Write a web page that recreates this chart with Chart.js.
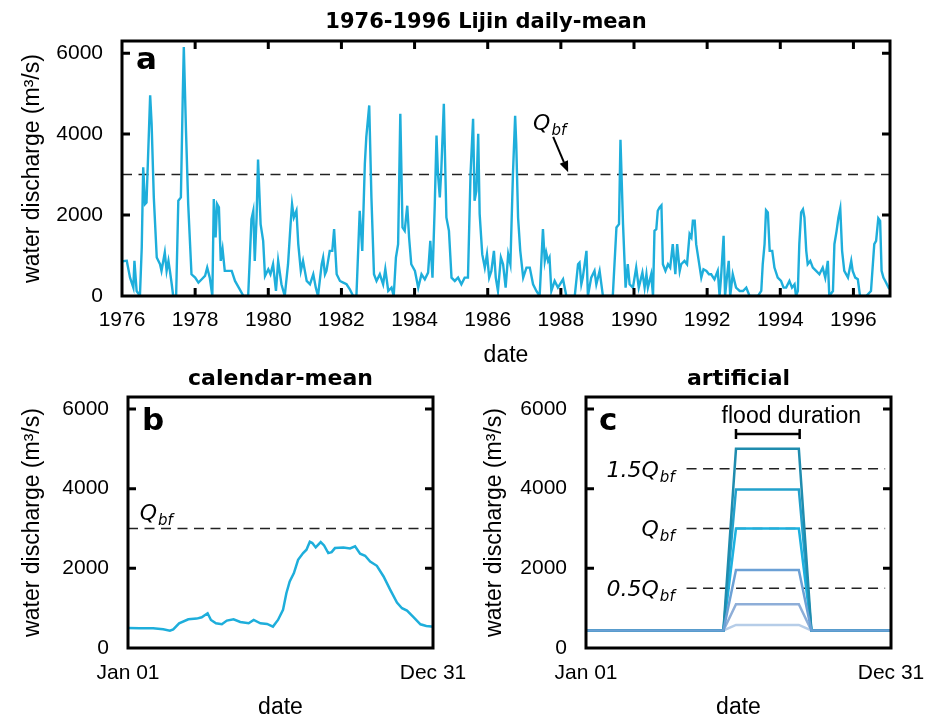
<!DOCTYPE html>
<html><head><meta charset="utf-8">
<script src="https://cdn.jsdelivr.net/npm/chart.js@4.4.1/dist/chart.umd.min.js"></script>
<style>
html,body{margin:0;padding:0;background:#fff;}
#wrap{position:relative;width:927px;height:721px;overflow:hidden;}
canvas{position:absolute;left:0;top:0;}
</style></head><body><div id="wrap">
<canvas id="ca" width="927" height="721"></canvas>
<canvas id="cb" width="927" height="721"></canvas>
<canvas id="cc" width="927" height="721"></canvas>
</div>
<script>
// ---------- data ----------
const yearsA = [1976.00,1976.08,1976.13,1976.22,1976.31,1976.34,1976.40,1976.49,1976.54,1976.58,1976.63,1976.67,1976.77,1976.81,1976.87,1976.95,
1977.04,1977.08,1977.17,1977.22,1977.27,1977.31,1977.36,1977.40,1977.48,1977.54,1977.61,1977.66,1977.69,1977.75,1977.81,1977.90,
1978.00,1978.09,1978.18,1978.27,1978.33,1978.40,1978.47,1978.51,1978.56,1978.60,1978.65,1978.70,1978.75,1978.81,1978.91,
1979.00,1979.09,1979.22,1979.32,1979.45,1979.54,1979.59,1979.63,1979.68,1979.72,1979.79,1979.86,1979.91,
1980.00,1980.06,1980.13,1980.21,1980.27,1980.36,1980.45,1980.54,1980.61,1980.65,1980.70,1980.77,1980.82,1980.89,1980.95,
1981.05,1981.14,1981.23,1981.30,1981.36,1981.46,1981.50,1981.55,1981.59,1981.68,1981.75,1981.80,1981.87,1981.96,
1982.05,1982.14,1982.23,1982.32,1982.41,1982.50,1982.57,1982.64,1982.68,1982.76,1982.82,1982.89,1982.96,
1983.05,1983.14,1983.20,1983.28,1983.37,1983.43,1983.49,1983.55,1983.61,1983.67,1983.73,1983.80,1983.85,1983.91,
1984.01,1984.10,1984.19,1984.28,1984.37,1984.43,1984.49,1984.55,1984.60,1984.64,1984.69,1984.73,1984.80,1984.87,1984.94,
1985.01,1985.10,1985.19,1985.28,1985.37,1985.46,1985.53,1985.60,1985.64,1985.69,1985.74,1985.78,1985.85,1985.92,1985.98,
1986.04,1986.10,1986.17,1986.22,1986.28,1986.36,1986.42,1986.49,1986.56,1986.62,1986.69,1986.75,1986.78,1986.83,1986.89,1986.97,
1987.06,1987.15,1987.24,1987.33,1987.42,1987.51,1987.56,1987.60,1987.65,1987.69,1987.74,1987.83,1987.92,
1988.06,1988.15,1988.38,1988.47,1988.51,1988.56,1988.60,1988.70,1988.74,1988.83,1988.92,1988.97,
1989.06,1989.15,1989.29,1989.42,1989.52,1989.59,1989.63,1989.70,1989.77,1989.83,1989.88,1989.97,
1990.06,1990.13,1990.23,1990.29,1990.34,1990.38,1990.47,1990.52,1990.56,1990.61,1990.65,1990.70,1990.75,1990.79,1990.86,1990.93,1990.99,
1991.06,1991.13,1991.18,1991.25,1991.29,1991.38,1991.45,1991.52,1991.57,1991.61,1991.66,1991.70,1991.77,1991.84,1991.90,1991.98,
1992.05,1992.11,1992.20,1992.29,1992.34,1992.38,1992.45,1992.49,1992.54,1992.59,1992.63,1992.70,1992.79,1992.89,1992.98,
1993.07,1993.16,1993.39,1993.48,1993.52,1993.57,1993.61,1993.66,1993.71,1993.78,1993.84,1993.93,
1994.02,1994.09,1994.16,1994.25,1994.32,1994.39,1994.43,1994.48,1994.52,1994.57,1994.62,1994.66,1994.71,1994.75,1994.82,1994.89,1994.98,
1995.07,1995.16,1995.23,1995.30,1995.34,1995.44,1995.48,1995.54,1995.59,1995.64,1995.69,1995.75,1995.85,1995.94,1995.98,
1996.05,1996.12,1996.18,1996.35,1996.48,1996.57,1996.62,1996.68,1996.73,1996.77,1996.82,1996.87,1996.96,1997.00];
const dischargeA = [850,867,870,454,206,867,124,0,1197,3180,2270,2310,4956,4254,2430,950,
785,620,1074,620,867,620,290,0,0,2354,2436,4873,6150,4080,2270,537,
454,330,413,495,702,454,0,2395,1445,2270,2188,867,1156,620,620,
620,372,165,0,0,1900,2106,867,1940,3370,1776,1363,495,
661,537,785,124,867,290,0,785,1776,2270,1940,2106,1280,620,867,
372,290,537,207,0,785,950,537,620,1115,1115,1652,537,372,
330,290,165,0,0,2106,1115,3262,3923,4708,2436,537,372,
537,290,661,124,207,0,950,1280,4502,1693,1610,2230,1445,785,
620,207,537,413,578,1363,454,2188,3965,3015,2436,3097,4750,1940,1610,
454,372,454,290,454,454,3015,4378,2354,2600,4006,2023,1033,702,1033,
454,620,1115,454,124,950,785,207,1033,785,3015,4450,3758,1940,1115,454,
702,702,290,124,0,1652,867,1074,867,950,124,372,207,
413,0,0,785,826,290,454,1115,0,454,620,290,
620,0,0,0,1693,1776,3860,1776,207,785,290,207,
702,207,578,207,537,207,537,0,1610,1652,2106,2188,2240,785,620,785,702,
1280,537,1280,620,785,867,785,1528,1445,1858,1858,1280,867,454,661,620,
537,537,413,620,0,454,1486,0,454,867,0,537,207,124,124,
207,0,0,124,785,1280,2120,2065,1115,1115,702,454,
372,207,207,372,207,290,0,124,1280,2065,2140,1940,1115,785,867,702,620,
537,702,454,867,0,124,1280,1610,1940,2160,1115,620,454,867,620,
454,413,0,0,124,1280,1363,1920,1858,620,454,372,207,250];
const yearTicks = [1976,1978,1980,1982,1984,1986,1988,1990,1992,1994,1996];
const dischargeTicks = [0,2000,4000,6000];
const bankfull = 3000;

const calDays = [1,15,31,43,51,55,62,73,83,89,96,100,106,113,119,127,135,145,151,159,167,174,180,186,190,194,199,204,210,214,218,221,225,231,235,240,244,248,258,266,272,278,284,290,298,306,314,322,328,334,342,350,357,363,365];
const calDischarge = [505,494,494,469,436,469,620,721,738,771,872,704,620,595,688,721,654,620,704,620,604,537,704,956,1376,1669,1879,2214,2382,2466,2667,2634,2525,2659,2575,2382,2407,2508,2525,2500,2550,2365,2315,2172,2063,1795,1460,1141,998,939,771,595,553,537,530];
const calTickDays = [1,365];
const calTickLabels = ['Jan 01','Dec 31'];

const artDays = [1,165,180,255,270,365];
const art5000 = [440,440,5000,5000,440,440];
const art4000 = [440,440,3980,3980,440,440];
const art3000 = [440,440,3000,3000,440,440];
const art2000 = [440,440,1960,1960,440,440];
const art1100 = [440,440,1100,1100,440,440];
const art600  = [440,440,580,580,440,440];
const artDashDays = [121,358];
const artDashLevels = [4500,3000,1500];
const artDashPrefixes = ['1.5','','0.5'];
const floodDurationDays = [180,256];

// ---------- helpers ----------
Chart.defaults.font.family = '"Liberation Sans", Arial, sans-serif';
Chart.defaults.color = '#000';
const LINE = '#1eaedb';
const pts = (xs, ys) => xs.map((x, i) => ({x, y: ys[i]}));

function drawQ(ctx, prefix, x, y, align) {
  const size = 22;
  const mainF = 'oblique ' + size + 'px "DejaVu Sans"';
  const subF = 'oblique ' + Math.round(size * 0.7) + 'px "DejaVu Sans"';
  const main = prefix + 'Q';
  ctx.font = mainF; const w1 = ctx.measureText(main).width;
  ctx.font = subF; const w2 = ctx.measureText('bf').width;
  const x0 = align === 'right' ? x - w1 - w2 - 2 : x;
  ctx.textAlign = 'left'; ctx.textBaseline = 'alphabetic'; ctx.fillStyle = '#000';
  ctx.font = mainF; ctx.fillText(main, x0, y);
  ctx.font = subF; ctx.fillText('bf', x0 + w1 + 1, y + 5);
}

const framePlugin = {
  id: 'frame',
  afterDatasetsDraw(chart, args, opts) {
    const {ctx, chartArea: a, scales} = chart;
    ctx.save();
    ctx.strokeStyle = '#000'; ctx.lineWidth = 3; ctx.lineCap = 'butt';
    const L = 8;
    ctx.beginPath();
    scales.y.ticks.forEach(t => {
      const p = scales.y.getPixelForValue(t.value);
      if (p > a.top + 3 && p < a.bottom - 3) {
        ctx.moveTo(a.left, p); ctx.lineTo(a.left + L, p);
        ctx.moveTo(a.right, p); ctx.lineTo(a.right - L, p);
      }
    });
    if (opts.xTicks) {
      scales.x.ticks.forEach(t => {
        const p = scales.x.getPixelForValue(t.value);
        if (p > a.left + 3 && p < a.right - 3) {
          ctx.moveTo(p, a.top); ctx.lineTo(p, a.top + L);
          ctx.moveTo(p, a.bottom); ctx.lineTo(p, a.bottom - L);
        }
      });
    }
    ctx.stroke();
    ctx.strokeRect(a.left, a.top, a.right - a.left, a.bottom - a.top);
    // panel letter
    ctx.fillStyle = '#000';
    ctx.font = 'bold 31px "DejaVu Sans"';
    ctx.textAlign = 'left'; ctx.textBaseline = 'alphabetic';
    ctx.fillText(opts.letter, a.left + opts.lx, a.top + opts.ly);
    if (opts.annot) opts.annot(chart, ctx);
    ctx.restore();
  }
};

function baseOptions(cfg) {
  const scales = {
    x: {type: 'linear', min: cfg.xmin, max: cfg.xmax,
      grid: {display: false, drawTicks: false}, border: {display: false},
      afterBuildTicks: s => { s.ticks = cfg.xticks.map(v => ({value: v})); },
      ticks: {padding: cfg.xpad, font: {size: 21}, color: '#000', autoSkip: false, maxRotation: 0,
        callback: cfg.xcb},
      title: {display: true, text: 'date', color: '#000', font: {size: 23}, padding: {top: 0, bottom: 0}},
      afterFit: s => { s.height = cfg.xh; s.paddingLeft = 0; s.paddingRight = 0; }
    },
    y: {type: 'linear', min: 0, max: 6300,
      grid: {display: false, drawTicks: false}, border: {display: false},
      afterBuildTicks: s => { s.ticks = dischargeTicks.map(v => ({value: v})); },
      ticks: {padding: 19, font: {size: 21}, color: '#000', callback: v => String(v)},
      title: {display: true, text: 'water discharge (m³/s)', color: '#000', font: {size: 23},
        padding: {top: 19, bottom: 0}},
      afterFit: s => { s.width = cfg.yw; s.paddingTop = 0; s.paddingBottom = 0; }
    }
  };
  if (cfg.rightSpacer) {
    // empty right-hand axis used only as spacing so the figure title can sit off-centre
    scales.spacer = {type: 'linear', position: 'right', display: true,
      grid: {display: false, drawTicks: false}, border: {display: false},
      ticks: {display: false},
      afterFit: s => { s.width = cfg.rightSpacer; s.paddingTop = 0; s.paddingBottom = 0; }
    };
  }
  return {
    responsive: false, animation: false, devicePixelRatio: 1,
    layout: {padding: cfg.pad},
    plugins: {
      legend: {display: false}, tooltip: {enabled: false},
      title: {display: true, text: cfg.title, fullSize: cfg.titleFull, color: '#000',
        font: {family: '"DejaVu Sans", sans-serif', size: cfg.titleSize, weight: 'bold'},
        padding: cfg.titlePad},
      frame: cfg.frame
    },
    elements: {point: {radius: 0}, line: {tension: 0}},
    scales
  };
}

const dashDS = (xs, y) => ({data: xs.map(x => ({x, y})), borderColor: '#222', borderWidth: 1.6,
  borderDash: [10, 6.5], pointRadius: 0, fill: false});

// ---------- panel a ----------
new Chart(document.getElementById('ca'), {
  type: 'line',
  data: {datasets: [
    {data: pts(yearsA, dischargeA), borderColor: LINE, borderWidth: 2.4, pointRadius: 0, fill: false},
    dashDS([1976, 1997], bankfull)
  ]},
  options: baseOptions({
    pad: {left: 0, right: -45, top: 0, bottom: 352}, title: '1976-1996 Lijin daily-mean', titleSize: 21,
    titleFull: true, titlePad: {top: 9.9, bottom: 5.9}, xmin: 1976, xmax: 1997, xticks: yearTicks, xpad: 12,
    xcb: v => String(v), xh: 73, yw: 122, rightSpacer: 82,
    frame: {xTicks: true, letter: 'a', lx: 14, ly: 28, annot: (chart, ctx) => {
      const {x, y} = chart.scales;
      drawQ(ctx, '', x.getPixelForValue(1987.24), y.getPixelForValue(4100), 'left');
      const x0 = x.getPixelForValue(1987.79), y0 = y.getPixelForValue(3930);
      const x1 = x.getPixelForValue(1988.20), y1 = y.getPixelForValue(3060);
      ctx.strokeStyle = '#000'; ctx.lineWidth = 2;
      const ang = Math.atan2(y1 - y0, x1 - x0);
      const hl = 11, hw = 4.5;
      const bx = x1 - hl * Math.cos(ang), by = y1 - hl * Math.sin(ang);
      ctx.beginPath(); ctx.moveTo(x0, y0); ctx.lineTo(bx, by); ctx.stroke();
      ctx.beginPath(); ctx.moveTo(x1, y1);
      ctx.lineTo(bx + hw * Math.sin(ang), by - hw * Math.cos(ang));
      ctx.lineTo(bx - hw * Math.sin(ang), by + hw * Math.cos(ang));
      ctx.closePath(); ctx.fillStyle = '#000'; ctx.fill();
    }}
  }),
  plugins: [framePlugin]
});

// ---------- panel b ----------
new Chart(document.getElementById('cb'), {
  type: 'line',
  data: {datasets: [
    {data: pts(calDays, calDischarge), borderColor: LINE, borderWidth: 2.5, pointRadius: 0, fill: false},
    dashDS([1, 365], bankfull)
  ]},
  options: baseOptions({
    pad: {left: 0, right: 494, top: 365.8, bottom: 0}, title: 'calendar-mean', titleSize: 22,
    titleFull: false, titlePad: {top: 0, bottom: 4.8}, xmin: 1, xmax: 365, xticks: calTickDays, xpad: 13,
    xcb: (v, i) => calTickLabels[i], xh: 73, yw: 128,
    frame: {xTicks: false, letter: 'b', lx: 14, ly: 33, annot: (chart, ctx) => {
      const {x, y} = chart.scales;
      drawQ(ctx, '', x.getPixelForValue(15), y.getPixelForValue(3210), 'left');
    }}
  }),
  plugins: [framePlugin]
});

// ---------- panel c ----------
const artSeries = [
  [art2000, '#6ba0d5'], [art5000, '#1f8cae'], [art4000, '#23a1cc'], [art3000, '#1cb1e0'],
  [art1100, '#8eaed8'], [art600, '#b6cde8']
];
const cDatasets = artSeries.map(([vals, col]) => ({data: pts(artDays, vals), borderColor: col,
  borderWidth: 2.5, pointRadius: 0, fill: false}));
artDashLevels.forEach(lv => cDatasets.push(dashDS(artDashDays, lv)));
new Chart(document.getElementById('cc'), {
  type: 'line',
  data: {datasets: cDatasets},
  options: baseOptions({
    pad: {left: 462, right: 36, top: 365.8, bottom: 0}, title: 'artificial', titleSize: 22,
    titleFull: false, titlePad: {top: 0, bottom: 4.8}, xmin: 1, xmax: 365, xticks: calTickDays, xpad: 13,
    xcb: (v, i) => calTickLabels[i], xh: 73, yw: 124,
    frame: {xTicks: false, letter: 'c', lx: 13, ly: 33, annot: (chart, ctx) => {
      const {x, y} = chart.scales;
      artDashLevels.forEach((lv, i) => {
        drawQ(ctx, artDashPrefixes[i], x.getPixelForValue(108), y.getPixelForValue(lv) + 8, 'right');
      });
      ctx.fillStyle = '#000'; ctx.font = '23px "Liberation Sans", Arial, sans-serif';
      ctx.textAlign = 'center'; ctx.textBaseline = 'alphabetic';
      ctx.fillText('flood duration', x.getPixelForValue(246), y.getPixelForValue(5650));
      const xa = x.getPixelForValue(floodDurationDays[0]), xb = x.getPixelForValue(floodDurationDays[1]);
      const yb = y.getPixelForValue(5370);
      ctx.strokeStyle = '#000'; ctx.lineWidth = 2.5;
      ctx.beginPath();
      ctx.moveTo(xa, yb); ctx.lineTo(xb, yb);
      ctx.moveTo(xa, yb - 5); ctx.lineTo(xa, yb + 5);
      ctx.moveTo(xb, yb - 5); ctx.lineTo(xb, yb + 5);
      ctx.stroke();
    }}
  }),
  plugins: [framePlugin]
});
</script>
</body></html>
